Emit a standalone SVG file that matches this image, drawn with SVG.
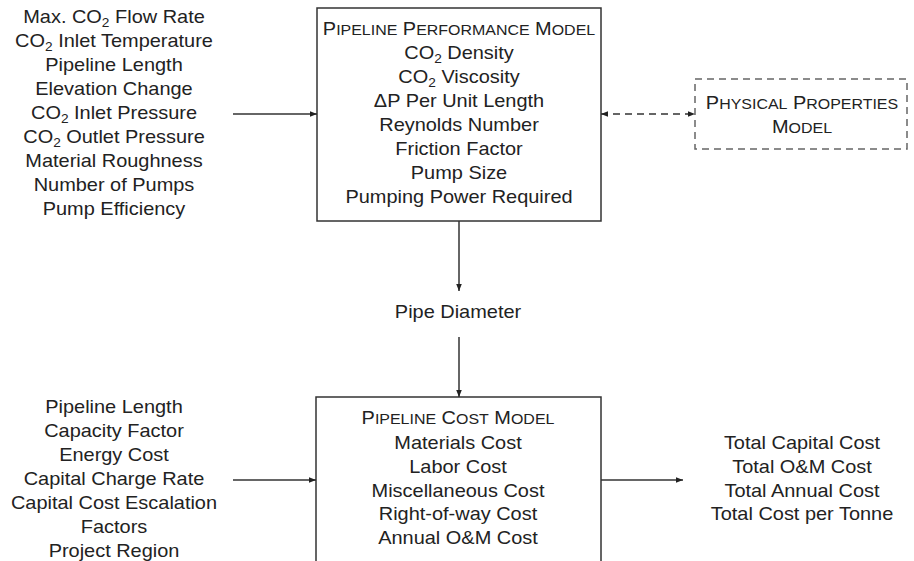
<svg xmlns="http://www.w3.org/2000/svg" width="914" height="561" viewBox="0 0 914 561">
  <style>
    text { font-family: "Liberation Sans", Arial, sans-serif; font-size: 17.5px; fill: #222; text-anchor: middle; }
    .s { font-size: 14px; }
    .box { fill: #fff; stroke: #333; stroke-width: 1.5; }
    .dbox { fill: #fff; stroke: #666; stroke-width: 1.5; stroke-dasharray: 7 5; }
    .conn { stroke: #333; stroke-width: 1.5; fill: none; }
    .dash { stroke: #333; stroke-width: 1.5; fill: none; stroke-dasharray: 7 5; }
  </style>
  <defs>
    <marker id="arr" viewBox="0 0 10 10" refX="10" refY="5" markerWidth="7" markerHeight="7" orient="auto-start-reverse" markerUnits="userSpaceOnUse">
      <path d="M0,1 L10,5 L0,9 z" fill="#222"/>
    </marker>
  </defs>
  <rect width="914" height="561" fill="#fff"/>

  <!-- inputs to the performance model -->
  <g id="perf-inputs" transform="translate(114,0) scale(1.14,1)">
    <text y="23">Max. CO<tspan font-size="12" dy="4">2</tspan><tspan dy="-4"> Flow Rate</tspan></text>
    <text y="47">CO<tspan font-size="12" dy="4">2</tspan><tspan dy="-4"> Inlet Temperature</tspan></text>
    <text y="71">Pipeline Length</text>
    <text y="95">Elevation Change</text>
    <text y="119">CO<tspan font-size="12" dy="4">2</tspan><tspan dy="-4"> Inlet Pressure</tspan></text>
    <text y="143">CO<tspan font-size="12" dy="4">2</tspan><tspan dy="-4"> Outlet Pressure</tspan></text>
    <text y="167">Material Roughness</text>
    <text y="191">Number of Pumps</text>
    <text y="215">Pump Efficiency</text>
  </g>

  <!-- pipeline performance model -->
  <g id="perf-model">
    <rect class="box" x="317" y="8" width="284" height="213"/>
    <g transform="translate(459,0) scale(1.14,1)">
      <text y="35">P<tspan class="s">IPELINE</tspan> P<tspan class="s">ERFORMANCE</tspan> M<tspan class="s">ODEL</tspan></text>
      <text y="59">CO<tspan font-size="12" dy="4">2</tspan><tspan dy="-4"> Density</tspan></text>
      <text y="83">CO<tspan font-size="12" dy="4">2</tspan><tspan dy="-4"> Viscosity</tspan></text>
      <text y="107">ΔP Per Unit Length</text>
      <text y="131">Reynolds Number</text>
      <text y="155">Friction Factor</text>
      <text y="179">Pump Size</text>
      <text y="203">Pumping Power Required</text>
    </g>
  </g>

  <!-- physical properties model -->
  <g id="props-model">
    <rect class="dbox" x="695" y="79" width="212" height="70"/>
    <g transform="translate(802,0) scale(1.14,1)">
      <text y="109">P<tspan class="s">HYSICAL</tspan> P<tspan class="s">ROPERTIES</tspan></text>
      <text y="133">M<tspan class="s">ODEL</tspan></text>
    </g>
  </g>

  <!-- intermediate result -->
  <g id="pipe-diameter" transform="translate(458,0) scale(1.14,1)">
    <text y="318">Pipe Diameter</text>
  </g>

  <!-- inputs to the cost model -->
  <g id="cost-inputs" transform="translate(114,0) scale(1.14,1)">
    <text y="413">Pipeline Length</text>
    <text y="437">Capacity Factor</text>
    <text y="461">Energy Cost</text>
    <text y="485">Capital Charge Rate</text>
    <text y="509">Capital Cost Escalation</text>
    <text y="533">Factors</text>
    <text y="557">Project Region</text>
  </g>

  <!-- pipeline cost model -->
  <g id="cost-model">
    <rect class="box" x="316" y="397" width="285" height="180"/>
    <g transform="translate(458,0) scale(1.14,1)">
      <text y="424">P<tspan class="s">IPELINE</tspan> C<tspan class="s">OST</tspan> M<tspan class="s">ODEL</tspan></text>
      <text y="449">Materials Cost</text>
      <text y="473">Labor Cost</text>
      <text y="497">Miscellaneous Cost</text>
      <text y="520">Right-of-way Cost</text>
      <text y="544">Annual O&amp;M Cost</text>
    </g>
  </g>

  <!-- outputs -->
  <g id="cost-outputs" transform="translate(802,0) scale(1.14,1)">
    <text y="449">Total Capital Cost</text>
    <text y="473">Total O&amp;M Cost</text>
    <text y="497">Total Annual Cost</text>
    <text y="520">Total Cost per Tonne</text>
  </g>

  <!-- connectors -->
  <g id="connectors">
    <line class="conn" x1="233" y1="114" x2="317" y2="114" marker-end="url(#arr)"/>
    <line class="dash" x1="601" y1="114" x2="695" y2="114" marker-start="url(#arr)" marker-end="url(#arr)"/>
    <line class="conn" x1="459" y1="221" x2="459" y2="291" marker-end="url(#arr)"/>
    <line class="conn" x1="459" y1="337" x2="459" y2="397" marker-end="url(#arr)"/>
    <line class="conn" x1="233" y1="480" x2="316" y2="480" marker-end="url(#arr)"/>
    <line class="conn" x1="601" y1="480" x2="683" y2="480" marker-end="url(#arr)"/>
  </g>
</svg>
